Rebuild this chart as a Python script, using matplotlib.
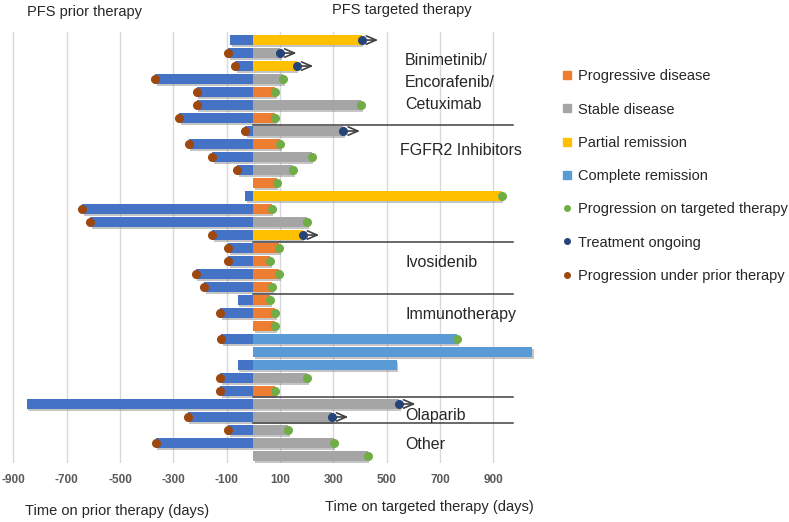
import matplotlib
matplotlib.use("Agg")
import matplotlib.pyplot as plt
import matplotlib.patheffects as pe
from matplotlib.lines import Line2D

plt.rcParams['font.family'] = ['Liberation Sans', 'DejaVu Sans']

# ---- data (one entry per patient, top to bottom) ----
prior_days = [-88, -94, -67, -367, -212, -212, -279, -31, -242, -155, -61, 0, -31, -641, -611,
              -154, -94, -94, -216, -184, -59, -124, 0, -121, 0, -59, -124, -124, -850, -246,
              -94, -366, 0]
prior_progression = [0, 1, 1, 1, 1, 1, 1, 1, 1, 1, 1, 0, 0, 1, 1,
                     1, 1, 1, 1, 1, 0, 1, 0, 1, 0, 0, 1, 1, 0, 1,
                     1, 1, 0]
target_days = [406, 100, 163, 112, 83, 404, 83, 338, 100, 219, 150, 88, 931, 69, 203,
               185, 96, 63, 96, 71, 63, 81, 81, 765, 1045, 538, 203, 81, 546, 294,
               131, 301, 429]
response = ['PR', 'SD', 'PR', 'SD', 'PD', 'SD', 'PD', 'SD', 'PD', 'SD', 'SD', 'PD', 'PR', 'PD', 'SD',
            'PR', 'PD', 'PD', 'PD', 'PD', 'PD', 'PD', 'PD', 'CR', 'CR', 'CR', 'SD', 'PD', 'SD', 'SD',
            'SD', 'SD', 'SD']
end_status = ['ong', 'ong', 'ong', 'prog', 'prog', 'prog', 'prog', 'ong', 'prog', 'prog', 'prog',
              'prog', 'prog', 'prog', 'prog', 'ong', 'prog', 'prog', 'prog', 'prog', 'prog', 'prog',
              'prog', 'prog', 'none', 'none', 'prog', 'prog', 'ong', 'ong', 'prog', 'prog', 'prog']
group_names = ['Binimetinib/', 'Encorafenib/', 'Cetuximab', 'FGFR2 Inhibitors', 'Ivosidenib',
               'Immunotherapy', 'Olaparib', 'Other']
group_label_rows = [1.54, 3.23, 4.92, 8.46, 17.1, 21.1, 28.85, 31.15]
separator_rows = [6.5, 15.5, 19.5, 27.5, 29.5]
xticks = [-900, -700, -500, -300, -100, 100, 300, 500, 700, 900]

colors = {'PD': '#ED7D31', 'SD': '#A5A5A5', 'PR': '#FFC000', 'CR': '#5B9BD5'}
prior_color = '#4472C4'
green = '#70AD47'
navy = '#264478'
brown = '#9E480E'

W, H = 789, 522
fig = plt.figure(figsize=(W / 100, H / 100), dpi=100)
ax_left, ax_right, ax_top, ax_bot = 0, 536, 32, 463
ax = fig.add_axes([ax_left / W, 1 - ax_bot / H, (ax_right - ax_left) / W, (ax_bot - ax_top) / H])
ax.set_xlim(-950, 1060)
n = len(prior_days)
ax.set_ylim(n - 1 + 0.54, -0.62)

shadow = [pe.SimplePatchShadow(offset=(1.2, -1.2), shadow_rgbFace='#7f7f7f', alpha=0.45), pe.Normal()]
bh = 0.78
ys = list(range(n))
for y, p, t, r in zip(ys, prior_days, target_days, response):
    if p != 0:
        b = ax.barh(y, p, height=bh, color=prior_color, zorder=3)
        for patch in b:
            patch.set_path_effects(shadow)
    b = ax.barh(y, t, height=bh, color=colors[r], zorder=3)
    for patch in b:
        patch.set_path_effects(shadow)

for y, p, flag in zip(ys, prior_days, prior_progression):
    if flag:
        ax.plot(p, y, 'o', ms=5.5, color=brown, zorder=5)

for y, t, s in zip(ys, target_days, end_status):
    if s == 'prog':
        ax.plot(t, y, 'o', ms=5.5, color=green, zorder=5)
    elif s == 'ong':
        ax.annotate('', xy=(t + 62, y), xytext=(t, y),
                    arrowprops=dict(arrowstyle='->,head_length=0.7,head_width=0.3',
                                    color='#404040', lw=1.2, shrinkA=0, shrinkB=0), zorder=4)
        ax.plot(t, y, 'o', ms=5.5, color=navy, zorder=5)

for sy in separator_rows:
    ax.plot([0, 975], [sy, sy], color='#404040', lw=1.1, zorder=4)

for name, gy in zip(group_names, group_label_rows):
    gx = 550 if name == 'FGFR2 Inhibitors' else 569
    ax.text(gx, gy, name, fontsize=11.5, color='#262626', va='center', ha='left', zorder=6)

ax.set_xticks(xticks)
ax.set_xticklabels([str(v) for v in xticks], fontsize=8.5, fontweight='bold', color='#595959')
ax.tick_params(axis='x', length=0, pad=8)
ax.set_yticks([])
ax.grid(axis='x', color='#D9D9D9', lw=1.0, zorder=0)
ax.set_axisbelow(True)
for s in ax.spines.values():
    s.set_visible(False)
ax.patch.set_alpha(0)

fig.text(27 / W, 1 - 12 / H, 'PFS prior therapy', fontsize=10.5, color='#262626', va='center', ha='left')
fig.text(332 / W, 1 - 10 / H, 'PFS targeted therapy', fontsize=10.5, color='#262626', va='center', ha='left')
fig.text(25 / W, 1 - 511 / H, 'Time on prior therapy (days)', fontsize=10.5, color='#262626', va='center', ha='left')
fig.text(325 / W, 1 - 507 / H, 'Time on targeted therapy (days)', fontsize=10.5, color='#262626', va='center', ha='left')

handles = [
    Line2D([], [], ls='', marker='s', ms=6, color=colors['PD'], label='Progressive disease'),
    Line2D([], [], ls='', marker='s', ms=6, color=colors['SD'], label='Stable disease'),
    Line2D([], [], ls='', marker='s', ms=6, color=colors['PR'], label='Partial remission'),
    Line2D([], [], ls='', marker='s', ms=6, color=colors['CR'], label='Complete remission'),
    Line2D([], [], ls='', marker='o', ms=4, color=green, label='Progression on targeted therapy'),
    Line2D([], [], ls='', marker='o', ms=4, color=navy, label='Treatment ongoing'),
    Line2D([], [], ls='', marker='o', ms=4, color=brown, label='Progression under prior therapy'),
]
fig.legend(handles=handles, loc='upper left', bbox_to_anchor=(555 / W, 1 - 62 / H), frameon=False,
           fontsize=10.5, labelspacing=1.32, handlelength=0.7, handletextpad=0.35, borderpad=0,
           labelcolor='#262626')

fig.savefig('out.png', dpi=100)
